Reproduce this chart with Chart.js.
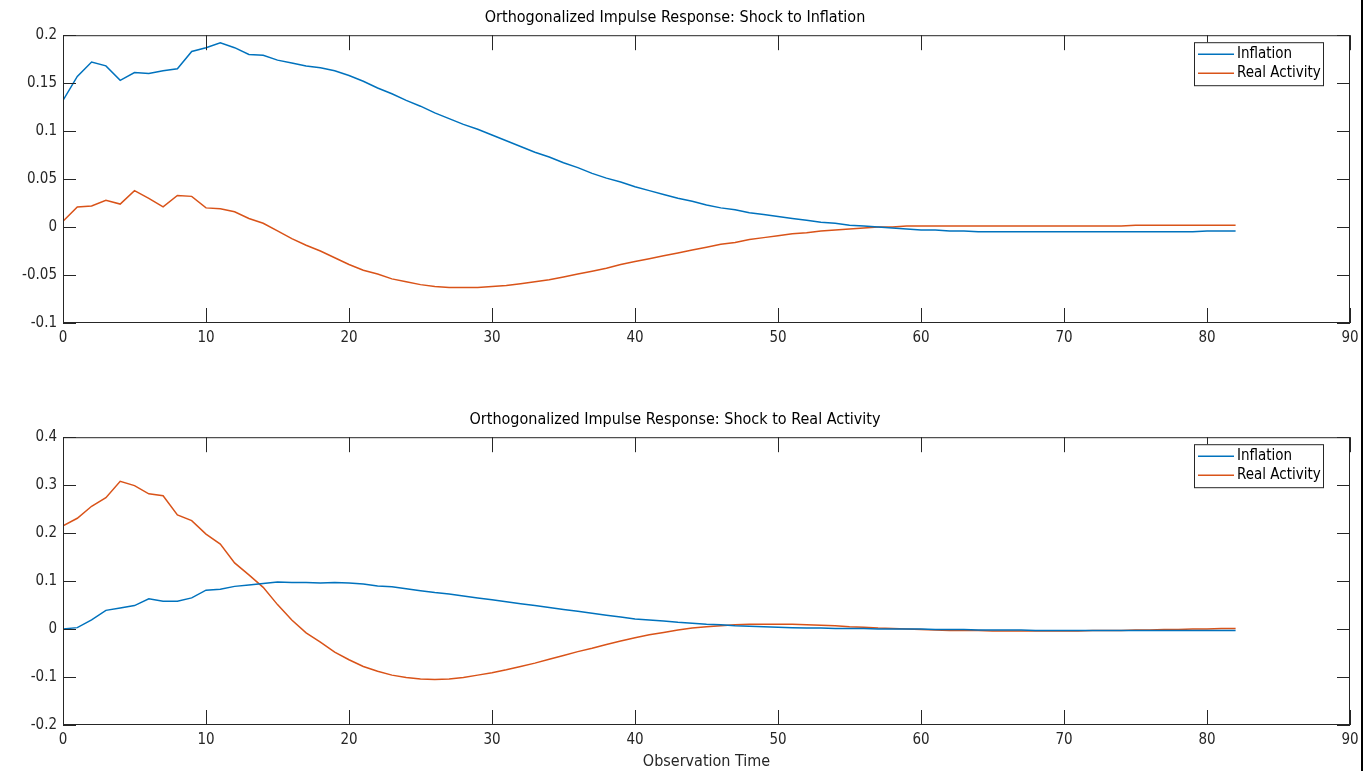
<!DOCTYPE html>
<html>
<head>
<meta charset="utf-8">
<script src="https://cdn.jsdelivr.net/npm/chart.js@4"></script>
<style>
  body { margin: 0; background: #fff; width: 1371px; height: 771px; overflow: hidden; position: relative; }
  .box { position: absolute; left: 0; width: 1371px; }
  #c1box { top: 0; height: 360px; }
  #c2box { top: 402px; height: 369px; }
  #edge { position: absolute; left: 1361px; top: 0; width: 2px; height: 771px; background: #000; }
</style>
</head>
<body>
<div class="box" id="c1box"><canvas id="chart1"></canvas></div>
<div class="box" id="c2box"><canvas id="chart2"></canvas></div>
<div id="edge"></div>
<script>
// horizon (periods after the shock)
const steps = [0, 1, 2, 3, 4, 5, 6, 7, 8, 9, 10, 11, 12, 13, 14, 15, 16, 17, 18, 19, 20,
    21, 22, 23, 24, 25, 26, 27, 28, 29, 30, 31, 32, 33, 34, 35, 36, 37, 38, 39, 40,
    41, 42, 43, 44, 45, 46, 47, 48, 49, 50, 51, 52, 53, 54, 55, 56, 57, 58, 59, 60,
    61, 62, 63, 64, 65, 66, 67, 68, 69, 70, 71, 72, 73, 74, 75, 76, 77, 78, 79, 80, 81, 82];

// shock to inflation
const inflShockInfl = [0.132, 0.157, 0.172, 0.168, 0.153, 0.161, 0.160, 0.163, 0.165, 0.183, 0.187,
    0.192, 0.187, 0.180, 0.179, 0.174, 0.171, 0.168, 0.166, 0.163, 0.158,
    0.152, 0.145, 0.139, 0.132, 0.126, 0.119, 0.113, 0.107, 0.102, 0.096,
    0.090, 0.084, 0.078, 0.073, 0.067, 0.062, 0.056, 0.051, 0.047, 0.042,
    0.038, 0.034, 0.030, 0.027, 0.023, 0.020, 0.018, 0.015, 0.013, 0.011,
    0.009, 0.007, 0.005, 0.004, 0.002, 0.001, 0.000, -0.001, -0.002, -0.003,
    -0.003, -0.004, -0.004, -0.005, -0.005, -0.005, -0.005, -0.005, -0.005, -0.005,
    -0.005, -0.005, -0.005, -0.005, -0.005, -0.005, -0.005, -0.005, -0.005, -0.004, -0.004, -0.004];
const realShockInfl = [0.006, 0.021, 0.022, 0.028, 0.024, 0.038, 0.030, 0.021, 0.033, 0.032, 0.020,
    0.019, 0.016, 0.009, 0.004, -0.004, -0.012, -0.019, -0.025, -0.032, -0.039,
    -0.045, -0.049, -0.054, -0.057, -0.060, -0.062, -0.063, -0.063, -0.063, -0.062,
    -0.061, -0.059, -0.057, -0.055, -0.052, -0.049, -0.046, -0.043, -0.039, -0.036,
    -0.033, -0.030, -0.027, -0.024, -0.021, -0.018, -0.016, -0.013, -0.011, -0.009,
    -0.007, -0.006, -0.004, -0.003, -0.002, -0.001, 0.000, 0.000, 0.001, 0.001,
    0.001, 0.001, 0.001, 0.001, 0.001, 0.001, 0.001, 0.001, 0.001, 0.001,
    0.001, 0.001, 0.001, 0.001, 0.002, 0.002, 0.002, 0.002, 0.002, 0.002, 0.002, 0.002];

// shock to real activity
const inflShockReal = [0.000, 0.003, 0.019, 0.039, 0.044, 0.049, 0.063, 0.058, 0.058, 0.065, 0.081,
    0.083, 0.089, 0.092, 0.095, 0.098, 0.097, 0.097, 0.096, 0.097, 0.096,
    0.094, 0.090, 0.088, 0.084, 0.080, 0.076, 0.073, 0.069, 0.065, 0.061,
    0.057, 0.053, 0.049, 0.045, 0.041, 0.037, 0.033, 0.029, 0.025, 0.021,
    0.019, 0.017, 0.014, 0.012, 0.010, 0.009, 0.007, 0.006, 0.005, 0.004,
    0.003, 0.002, 0.002, 0.001, 0.001, 0.001, 0.000, 0.000, 0.000, 0.000,
    -0.001, -0.001, -0.001, -0.002, -0.002, -0.002, -0.002, -0.003, -0.003, -0.003,
    -0.003, -0.003, -0.003, -0.003, -0.003, -0.003, -0.003, -0.003, -0.003, -0.003, -0.003, -0.003];
const realShockReal = [0.215, 0.231, 0.256, 0.274, 0.308, 0.299, 0.282, 0.278, 0.238, 0.226, 0.198,
    0.177, 0.138, 0.113, 0.087, 0.051, 0.019, -0.008, -0.027, -0.048, -0.064,
    -0.078, -0.088, -0.096, -0.101, -0.104, -0.105, -0.104, -0.101, -0.096, -0.091,
    -0.085, -0.078, -0.071, -0.063, -0.055, -0.047, -0.040, -0.032, -0.025, -0.018,
    -0.012, -0.007, -0.002, 0.002, 0.005, 0.007, 0.009, 0.010, 0.010, 0.010,
    0.010, 0.009, 0.008, 0.007, 0.005, 0.004, 0.002, 0.001, 0.000, -0.001,
    -0.002, -0.003, -0.003, -0.003, -0.004, -0.004, -0.004, -0.004, -0.004, -0.004,
    -0.004, -0.003, -0.003, -0.003, -0.002, -0.002, -0.001, -0.001, 0.000, 0.000, 0.001, 0.001];

const seriesNames = ['Inflation', 'Real Activity'];
const seriesColors = ['rgb(0, 114, 189)', 'rgb(217, 83, 25)'];

const FONT = "'Liberation Sans Narrow', 'DejaVu Sans Condensed', 'Liberation Sans', sans-serif";
const AXIS = '#262626';

// MATLAB-like box, inward ticks and a legend in the top right corner
const matlabBox = {
    id: 'matlabBox',
    afterDraw(chart) {
        const ctx = chart.ctx;
        const a = chart.chartArea;
        const xs = chart.scales.x, ys = chart.scales.y;
        ctx.save();
        ctx.strokeStyle = AXIS;
        ctx.lineWidth = 1;
        ctx.strokeRect(a.left + 0.5, a.top + 0.5, a.right - a.left - 1, a.bottom - a.top - 1);
        ctx.beginPath();
        xs.ticks.forEach(t => {
            const px = Math.round(xs.getPixelForValue(t.value)) + 0.5;
            ctx.moveTo(px, a.bottom); ctx.lineTo(px, a.bottom - 15);
            ctx.moveTo(px, a.top); ctx.lineTo(px, a.top + 15);
        });
        ys.ticks.forEach(t => {
            const py = Math.round(ys.getPixelForValue(t.value)) + 0.5;
            ctx.moveTo(a.left, py); ctx.lineTo(a.left + 13, py);
            ctx.moveTo(a.right, py); ctx.lineTo(a.right - 13, py);
        });
        ctx.stroke();

        // legend
        const lx = a.right - 156, ly = a.top + 7, lw = 129, lh = 43;
        ctx.fillStyle = '#fff';
        ctx.fillRect(lx, ly, lw, lh);
        ctx.strokeStyle = AXIS;
        ctx.strokeRect(lx + 0.5, ly + 0.5, lw, lh);
        ctx.font = '15px ' + FONT;
        ctx.textBaseline = 'middle';
        chart.data.datasets.forEach((ds, i) => {
            const y = ly + 12 + i * 19;
            ctx.strokeStyle = ds.borderColor;
            ctx.lineWidth = 1.5;
            ctx.beginPath();
            ctx.moveTo(lx + 4, y); ctx.lineTo(lx + 40, y);
            ctx.stroke();
            ctx.fillStyle = '#000';
            ctx.fillText(ds.label, lx + 43, y);
        });
        ctx.restore();
    }
};

function toPoints(vals) {
    return vals.map((v, i) => ({ x: steps[i], y: v }));
}

// 0.10 -> "0.1", 0.00 -> "0"
function shortNum(v) {
    return String(Number(v.toFixed(3)));
}

function makeChart(id, title, infl, real, yMin, yMax, yStep, xTitle) {
    return new Chart(document.getElementById(id), {
        type: 'line',
        data: {
            datasets: [
                { label: seriesNames[0], data: toPoints(infl), borderColor: seriesColors[0] },
                { label: seriesNames[1], data: toPoints(real), borderColor: seriesColors[1] },
            ]
        },
        options: {
            responsive: true,
            maintainAspectRatio: false,
            animation: false,
            layout: { padding: { left: 0, right: 21, top: 0, bottom: 0 } },
            elements: {
                point: { radius: 0 },
                line: { borderWidth: 1.5, tension: 0 },
            },
            plugins: {
                legend: { display: false },
                tooltip: { enabled: false },
                title: {
                    display: true,
                    text: title,
                    color: '#000',
                    font: { family: FONT, size: 16, weight: 'normal' },
                    padding: { top: 8, bottom: 8 },
                },
            },
            scales: {
                x: {
                    type: 'linear',
                    min: 0, max: 90,
                    grid: { display: false, drawTicks: false },
                    border: { display: false },
                    ticks: { stepSize: 10, color: AXIS, padding: 6, maxRotation: 0,
                        font: { family: FONT, size: 15 } },
                    title: xTitle ? { display: true, text: xTitle, color: AXIS,
                        font: { family: FONT, size: 16 }, padding: { top: 0, bottom: 0 } } : { display: false },
                    afterFit(s) { s.height = xTitle ? 46 : 37; },
                },
                y: {
                    min: yMin, max: yMax,
                    grid: { display: false, drawTicks: false },
                    border: { display: false },
                    ticks: { stepSize: yStep, color: AXIS, padding: 6,
                        font: { family: FONT, size: 15 }, callback: shortNum },
                    afterFit(s) { s.width = 63; },
                },
            },
        },
        plugins: [matlabBox],
    });
}

makeChart('chart1', 'Orthogonalized Impulse Response: Shock to Inflation',
    inflShockInfl, realShockInfl, -0.1, 0.2, 0.05, null);
makeChart('chart2', 'Orthogonalized Impulse Response: Shock to Real Activity',
    inflShockReal, realShockReal, -0.2, 0.4, 0.1, 'Observation Time');
</script>
</body>
</html>
